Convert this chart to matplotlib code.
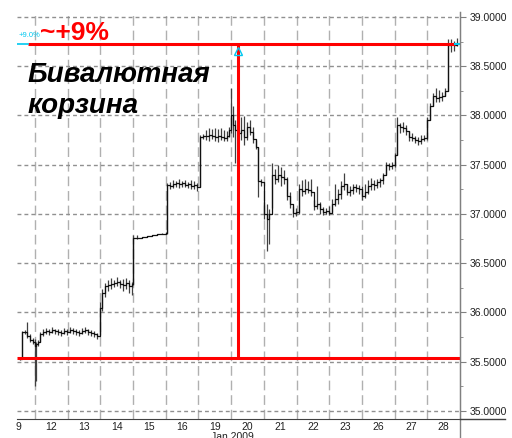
import numpy as np
import matplotlib
matplotlib.use("Agg")
import matplotlib.pyplot as plt
from matplotlib.lines import Line2D

plt.rcParams['font.family'] = ['Liberation Sans', 'DejaVu Sans']

# trading days shown on the time axis
day_labels = ['9', '12', '13', '14', '15', '16', '19', '20', '21', '22', '23', '26', '27', '28']
month_label = 'Jan 2009'

# bars: time (in trading-day units), high, low, close
bar_t = [0.04, 0.10, 0.19, 0.26, 0.35, 0.44, 0.50, 0.53, 0.59, 0.65, 0.75,
         0.84, 0.93, 1.02, 1.11, 1.20, 1.30, 1.39, 1.48, 1.57, 1.66, 1.76, 1.85, 1.94, 2.03, 2.12, 2.21, 2.31, 2.40,
         2.49, 2.55, 2.64, 2.73, 2.83, 2.92, 3.01, 3.10, 3.19, 3.29, 3.38, 3.47,
         3.51, 3.62, 3.77, 3.93, 4.08, 4.23, 4.39, 4.51,
         4.55, 4.63, 4.72, 4.82, 4.91, 5.00, 5.09, 5.18, 5.27, 5.37, 5.46,
         5.55, 5.64, 5.73, 5.82, 5.92, 6.01, 6.10, 6.19, 6.28, 6.38, 6.44, 6.50, 6.56, 6.62,
         6.71, 6.80, 6.90, 6.99, 7.08, 7.17, 7.26, 7.32, 7.42, 7.51, 7.60, 7.66, 7.75, 7.84, 7.94,
         8.03, 8.12, 8.21, 8.30, 8.40, 8.49, 8.58, 8.67, 8.76, 8.85, 8.95, 9.04, 9.13, 9.22, 9.31,
         9.40, 9.50, 9.59, 9.68, 9.77, 9.86, 9.96, 10.05, 10.14, 10.23, 10.32, 10.41, 10.51, 10.60,
         10.69, 10.78, 10.87, 10.97, 11.06, 11.15, 11.24, 11.33, 11.42, 11.52, 11.58, 11.67, 11.76,
         11.85, 11.94, 12.04, 12.13, 12.22, 12.31, 12.40, 12.50, 12.59, 12.68, 12.77, 12.86, 12.95,
         13.05, 13.14, 13.23, 13.32, 13.41]
bar_hi = [35.54, 35.81, 35.82, 35.90, 35.78, 35.74, 35.73, 35.70, 35.72, 35.80, 35.83,
          35.84, 35.83, 35.85, 35.83, 35.83, 35.82, 35.84, 35.83, 35.85, 35.84, 35.83, 35.82, 35.84, 35.85, 35.83, 35.82, 35.81, 35.79,
          36.11, 36.24, 36.30, 36.33, 36.35, 36.33, 36.36, 36.33, 36.34, 36.35, 36.33, 36.31,
          36.79, 36.79, 36.77, 36.78, 36.79, 36.80, 36.81, 36.82,
          37.31, 37.32, 37.34, 37.33, 37.35, 37.33, 37.34, 37.32, 37.34, 37.33, 37.31,
          37.80, 37.81, 37.85, 37.87, 37.86, 37.87, 37.86, 37.87, 37.85, 37.84, 37.88, 38.28, 38.10, 37.95,
          37.90, 37.98, 37.99, 37.93, 37.95, 37.88, 37.75, 37.68, 37.35, 37.12, 37.10, 37.05, 37.52, 37.46, 37.50,
          37.48, 37.45, 37.38, 37.22, 37.08, 37.06, 37.30, 37.34, 37.35, 37.33, 37.35, 37.14, 37.28, 37.12, 37.07,
          37.06, 37.08, 37.15, 37.30, 37.25, 37.33, 37.42, 37.30, 37.28, 37.30, 37.30, 37.29, 37.28, 37.30,
          37.34, 37.37, 37.34, 37.36, 37.37, 37.42, 37.53, 37.52, 37.53, 37.62, 37.98, 37.92, 37.93,
          37.90, 37.84, 37.82, 37.79, 37.78, 37.80, 37.80, 37.98, 38.13, 38.23, 38.28, 38.26, 38.24,
          38.28, 38.78, 38.78, 38.76, 38.79]
bar_lo = [35.52, 35.53, 35.78, 35.74, 35.70, 35.68, 35.25, 35.30, 35.66, 35.70, 35.76,
          35.78, 35.77, 35.79, 35.78, 35.77, 35.76, 35.78, 35.77, 35.79, 35.78, 35.77, 35.76, 35.78, 35.79, 35.77, 35.76, 35.75, 35.73,
          35.77, 36.02, 36.16, 36.22, 36.24, 36.26, 36.27, 36.25, 36.22, 36.24, 36.20, 36.18,
          36.28, 36.75, 36.76, 36.77, 36.78, 36.79, 36.80, 36.80,
          36.80, 37.25, 37.26, 37.27, 37.26, 37.27, 37.27, 37.26, 37.25, 37.25, 37.23,
          37.27, 37.76, 37.75, 37.74, 37.76, 37.74, 37.73, 37.75, 37.74, 37.74, 37.78, 37.82, 37.78, 37.52,
          37.75, 37.75, 37.70, 37.75, 37.80, 37.72, 37.66, 37.17, 37.28, 36.95, 36.62, 36.70, 37.06, 37.30, 37.32,
          37.28, 37.30, 37.14, 37.06, 36.97, 36.98, 37.00, 37.18, 37.20, 37.21, 37.18, 37.04, 37.05, 37.00, 36.99,
          37.00, 36.99, 37.02, 37.08, 37.10, 37.15, 37.24, 37.19, 37.18, 37.20, 37.22, 37.20, 37.14, 37.16,
          37.20, 37.24, 37.24, 37.26, 37.27, 37.30, 37.40, 37.45, 37.46, 37.48, 37.60, 37.82, 37.83,
          37.80, 37.74, 37.74, 37.72, 37.70, 37.71, 37.74, 37.75, 37.95, 38.10, 38.14, 38.14, 38.15,
          38.20, 38.25, 38.64, 38.65, 38.70]
bar_cl = [35.53, 35.80, 35.80, 35.76, 35.72, 35.70, 35.66, 35.68, 35.70, 35.78, 35.80,
          35.81, 35.80, 35.82, 35.81, 35.80, 35.79, 35.81, 35.80, 35.82, 35.81, 35.80, 35.79, 35.81, 35.82, 35.80, 35.79, 35.78, 35.76,
          36.05, 36.20, 36.27, 36.28, 36.29, 36.30, 36.31, 36.29, 36.28, 36.30, 36.27, 36.29,
          36.76, 36.76, 36.77, 36.78, 36.79, 36.80, 36.80, 36.81,
          37.29, 37.28, 37.30, 37.31, 37.30, 37.31, 37.29, 37.30, 37.28, 37.29, 37.27,
          37.78, 37.79, 37.79, 37.80, 37.79, 37.78, 37.79, 37.78, 37.77, 37.79, 37.85, 38.00, 37.90, 37.85,
          37.82, 37.85, 37.78, 37.88, 37.83, 37.76, 37.68, 37.33, 37.32, 37.00, 36.95, 37.00, 37.40, 37.36, 37.40,
          37.38, 37.36, 37.18, 37.10, 37.01, 37.02, 37.25, 37.23, 37.25, 37.24, 37.22, 37.08, 37.10, 37.05, 37.02,
          37.03, 37.01, 37.10, 37.15, 37.20, 37.28, 37.30, 37.22, 37.24, 37.27, 37.26, 37.25, 37.18, 37.22,
          37.28, 37.30, 37.29, 37.32, 37.34, 37.40, 37.50, 37.49, 37.50, 37.60, 37.90, 37.88, 37.87,
          37.84, 37.78, 37.77, 37.75, 37.74, 37.76, 37.77, 37.95, 38.10, 38.20, 38.18, 38.19, 38.20,
          38.25, 38.72, 38.73, 38.72, 38.74]

# analysis levels
low_level = 35.538
high_level = 38.726
mark_t = 6.71

W, H = 512, 438
fig = plt.figure(figsize=(W / 100, H / 100), dpi=100)
ax = fig.add_axes([17 / W, 19 / H, 443 / W, 407 / H])

ax.set_xlim(-0.05, 13.5)
ax.set_ylim(34.919, 39.05)

# grid
for k in range(len(day_labels) - 1):
    ax.axvline(k + 0.5, color='#b0b0b0', lw=1, dashes=(7, 3.5), zorder=1)
for v in np.arange(35.0, 39.01, 0.5):
    ax.axhline(v, color='#909090', lw=1, dashes=(2.8, 2.2), zorder=1)

# price bars
ax.vlines(bar_t, bar_lo, bar_hi, color='#404040', lw=0.9, zorder=3)
ax.step(bar_t, bar_cl, where='post', color='#111111', lw=0.9, zorder=3)

# red analysis lines
ax.plot([-0.05, 13.5], [low_level, low_level], color='#ff0000', lw=2.2, zorder=4,
        solid_capstyle='butt')
ax.plot([0.29, 13.35], [high_level, high_level], color='#ff0000', lw=2.2, zorder=4,
        solid_capstyle='butt')
ax.plot([mark_t, mark_t], [low_level, high_level], color='#ff0000', lw=2.2, zorder=4,
        solid_capstyle='butt')
ax.plot([-0.05, 0.29], [high_level, high_level], color='#00c8f0', lw=1.2, zorder=4)
ax.plot([13.35, 13.5], [high_level, high_level], color='#00c8f0', lw=1.5, zorder=4)
ax.plot([mark_t], [high_level - 0.07], marker='^', ms=6, mfc='none', mec='#00c8f0',
        mew=1, zorder=5)
ax.text(0.0, high_level + 0.09, '+9.0%', color='#00c8f0', fontsize=5.5, va='center',
        ha='left', zorder=5)

# axes styling
for s in ['left', 'top']:
    ax.spines[s].set_visible(False)
ax.spines['right'].set_color('#808080')
ax.spines['bottom'].set_color('#404040')
ax.yaxis.tick_right()
ax.set_yticks(np.arange(35.0, 39.01, 0.5))
ax.set_yticks(np.arange(35.25, 39.0, 0.5), minor=True)
ax.set_yticklabels(['%.4f' % v for v in np.arange(35.0, 39.01, 0.5)])
ax.tick_params(axis='y', which='major', length=4, color='#808080', labelsize=7.5,
               pad=3, labelcolor='#202020')
ax.tick_params(axis='y', which='minor', length=2, color='#808080')
ax.set_xticks(range(len(day_labels)))
ax.set_xticklabels(day_labels)
ax.tick_params(axis='x', length=0, labelsize=7.5, pad=2, labelcolor='#202020')

# frame of the price / time scales
fig.add_artist(Line2D([460 / W, 460 / W], [0, 426 / H], color='#808080', lw=1))
fig.add_artist(Line2D([460 / W, 505 / W], [19 / H, 19 / H], color='#404040', lw=1))
fig.text(232 / W, 1 - 432.5 / H, month_label, fontsize=7.5, ha='center', va='top',
         color='#202020')

# annotations
fig.text(40 / W, 1 - 39.5 / H, '~+9%', color='#ff0000', fontsize=19, fontweight='bold',
         ha='left', va='baseline')
fig.text(28 / W, 1 - 82 / H, 'Бивалютная', color='black', fontsize=20, fontweight='bold',
         fontstyle='italic', ha='left', va='baseline')
fig.text(28 / W, 1 - 113 / H, 'корзина', color='black', fontsize=20, fontweight='bold',
         fontstyle='italic', ha='left', va='baseline')

fig.savefig('out.png', dpi=100, facecolor='white')
